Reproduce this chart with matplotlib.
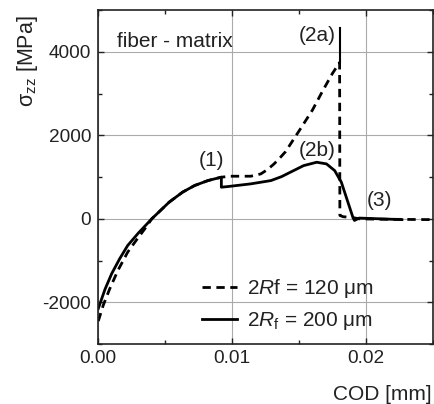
import matplotlib
matplotlib.use('Agg')
import matplotlib.pyplot as plt
from matplotlib.ticker import MultipleLocator, FormatStrFormatter

plt.rcParams['font.family'] = ['Liberation Sans', 'DejaVu Sans']
plt.rcParams['mathtext.fontset'] = 'custom'
plt.rcParams['mathtext.rm'] = 'Liberation Sans'
plt.rcParams['mathtext.it'] = 'Liberation Sans:italic'
plt.rcParams['axes.unicode_minus'] = False

# 2Rf = 200 um (solid)
cod_200 = [0, 0.0005, 0.001, 0.0016, 0.0022, 0.003, 0.004, 0.0053, 0.0063,
           0.0072, 0.0082, 0.0092, 0.0092, 0.0097, 0.0114, 0.0129, 0.0137, 0.01436,
           0.01535, 0.01633, 0.01706, 0.01767, 0.01817, 0.01866, 0.01903, 0.01915,
           0.0195, 0.021, 0.0227]
sig_200 = [-2150, -1690, -1315, -956, -638, -340, 0, 399, 638,
           797, 916, 997, 757, 773, 837, 915, 1010, 1116,
           1274, 1355, 1315, 1155, 877, 399, 40, -40,
           17, 0, -20]

# 2Rf = 120 um (dashed)
cod_120 = [0, 0.00037, 0.00086, 0.00147, 0.0022, 0.00283, 0.0035, 0.004, 0.0053,
           0.0063, 0.0072, 0.0082, 0.0092, 0.0099, 0.0114, 0.01215, 0.01264, 0.01314,
           0.01362, 0.014, 0.0151, 0.016, 0.0168, 0.0175, 0.01804, 0.01806,
           0.0183, 0.019, 0.0195, 0.021, 0.025]
sig_120 = [-2450, -2070, -1673, -1235, -797, -518, -230, 0, 399,
           638, 797, 916, 997, 1020, 1020, 1075, 1178, 1315,
           1474, 1609, 2150, 2600, 3080, 3480, 3745, 80,
           50, 30, 0, -10, -20]

# short spike at the (2a) failure point
spike_cod = [0.01804, 0.01804]
spike_sig = [3745, 4582]

fig = plt.figure(figsize=(4.34, 4.04), dpi=100)
ax = fig.add_axes([0.2265, 0.1485, 0.7705, 0.8265])

ax.plot(cod_120, sig_120, color='black', lw=2.0, linestyle=(0, (3, 2)),
        label=r'$\mathit{2R}$f = 120 μm')
ax.plot(cod_200, sig_200, color='black', lw=2.0, label=r'$\mathit{2R}_{\mathrm{f}}$ = 200 μm')
ax.plot(spike_cod, spike_sig, color='black', lw=1.5)

ax.set_xlim(0, 0.025)
ax.set_ylim(-3000, 5000)
ax.xaxis.set_major_locator(MultipleLocator(0.01))
ax.xaxis.set_minor_locator(MultipleLocator(0.005))
ax.xaxis.set_major_formatter(FormatStrFormatter('%.2f'))
ax.yaxis.set_major_locator(MultipleLocator(2000))
ax.yaxis.set_minor_locator(MultipleLocator(1000))
ax.grid(True, which='major', color='#aaaaaa', lw=0.8)
ax.set_axisbelow(True)
ax.tick_params(which='both', direction='in', top=True, right=True, width=1,
               labelsize=13.7, colors='#222222')
ax.tick_params(which='major', length=4)
ax.tick_params(which='minor', length=3)
ax.tick_params(axis='x', pad=4)
ax.tick_params(axis='y', pad=5)
for s in ax.spines.values():
    s.set_linewidth(1.2)
    s.set_color('#222222')

fs = 15
ax.text(0.0014, 4237, 'fiber - matrix', fontsize=fs, ha='left', va='center', color='#222222')
ax.text(0.01635, 4380, '(2a)', fontsize=fs, ha='center', va='center', color='#222222')
ax.text(0.01635, 1632, '(2b)', fontsize=fs, ha='center', va='center', color='#222222')
ax.text(0.00847, 1393, '(1)', fontsize=fs, ha='center', va='center', color='#222222')
ax.text(0.02099, 437, '(3)', fontsize=fs, ha='center', va='center', color='#222222')

leg = ax.legend(loc='center left', bbox_to_anchor=(0.31, 0.118), frameon=False,
                fontsize=fs, handlelength=1.68, handletextpad=0.48, labelspacing=0.5,
                borderpad=0, borderaxespad=0)
for t in leg.get_texts():
    t.set_color('#222222')

fig.text(27 / 434, 1 - 15 / 404, 'σ$_{\\mathrm{zz}}$ [MPa]', rotation=90, fontsize=15.5,
         ha='center', va='top', color='#222222')
fig.text(431.7 / 434, 1 - 395 / 404, 'COD [mm]', fontsize=fs, ha='right', va='center',
         color='#222222')

fig.savefig('out.png', dpi=100)
